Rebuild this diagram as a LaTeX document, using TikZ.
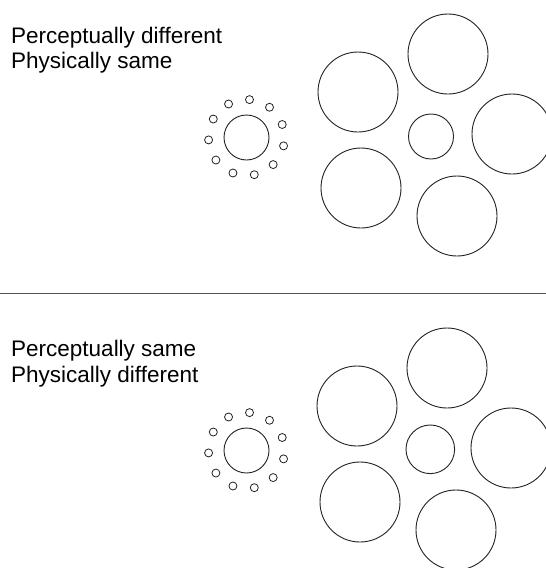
\documentclass[tikz,border=0pt]{standalone}
\usepackage{fontspec}
\setmainfont{Liberation Sans}
\usetikzlibrary{positioning, calc}
\definecolor{inkDark}{HTML}{222222}
\definecolor{ruleGray}{HTML}{555555}
\tikzset{
  lbl/.style={anchor=base west, inner sep=0pt, font=\fontsize{22.5}{25}\selectfont},
  ring/.style={draw=inkDark, line width=0.9pt},
  dot/.style={draw=inkDark, line width=0.8pt},
}

\begin{document}
\begin{tikzpicture}[x=1pt, y=-1pt]
    \useasboundingbox (0,0) rectangle (546,568);
    \clip (0,0) rectangle (546,568);

    % upper panel
    \node[lbl] (pd) at (11,43) {Perceptually different};
    \node[lbl] (ps) at ([yshift=-25pt]pd.base west) {Physically same};

    % small inducers
    \draw[ring] (246.5,137.5) circle[radius=22.5];
    \foreach \k in {0,...,10}
      \draw[dot] ($(246.5,137.5)+({20+\k*360/11}:38 and -38)$) circle[radius=4];

    % large inducers
    \draw[ring] (431,136.5) circle[radius=22.5];
    \foreach \cx/\cy in {448/54, 358/92, 512/134, 361/188, 457/216}
      \draw[ring] (\cx,\cy) circle[radius=40];

    % divider
    \draw[ruleGray, line width=1pt] (0,293.7) -- (546,293.7);

    % lower panel
    \node[lbl] (qs) at (11,356.7) {Perceptually same};
    \node[lbl] (qd) at ([yshift=-26pt]qs.base west) {Physically different};

    \draw[ring] (246.5,450.5) circle[radius=22.5];
    \foreach \k in {0,...,10}
      \draw[dot] ($(246.5,450.5)+({20+\k*360/11}:38 and -38)$) circle[radius=4];

    \draw[ring] (430.3,449.3) circle[radius=24.3];
    \foreach \cx/\cy in {447/368, 357/406, 511/448, 360/502, 456/530}
      \draw[ring] (\cx,\cy) circle[radius=40];
\end{tikzpicture}
\end{document}
